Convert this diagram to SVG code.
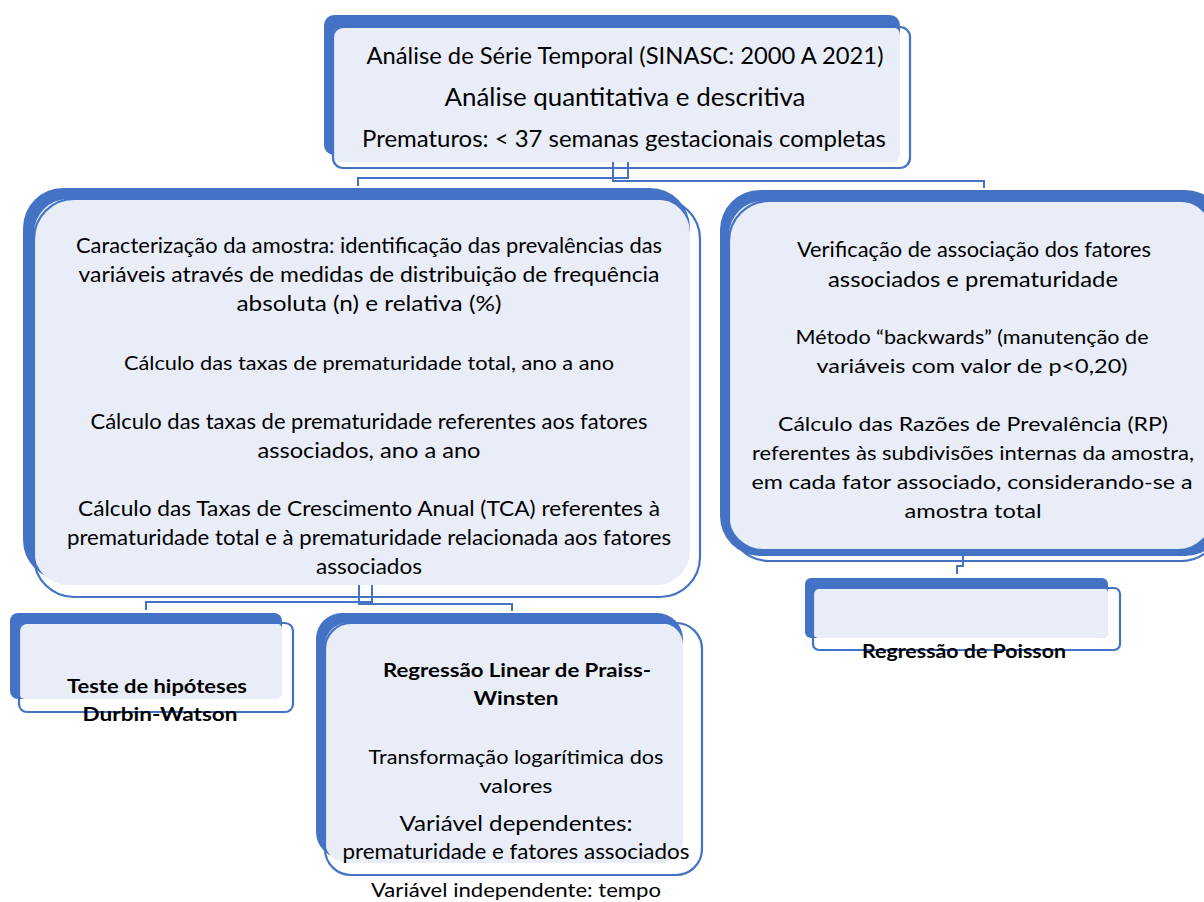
<svg xmlns="http://www.w3.org/2000/svg" width="1204" height="902" viewBox="0 0 1204 902">
<style>
.back{fill:#4472C4}
.fill{fill:#E9EDF7}
.out{fill:none;stroke:#4472C4;stroke-width:2.2}
.conn{fill:none;stroke:#4472C4;stroke-width:2}
text{font-family:Lato,"Open Sans","Liberation Sans",sans-serif;fill:#000;text-anchor:middle}
.b{font-weight:bold}
</style>
<rect width="1204" height="902" fill="#fff"/>
<g id="connectors">
<path class="conn" d="M628,162 V178 H358 V186"/>
<path class="conn" d="M613,162 V181 H984 V188"/>
<path class="conn" d="M372,584 V602 H146 V610"/>
<path class="conn" d="M359,584 V604 H512 V611"/>
<path class="conn" d="M963,550 V566 H957 V574"/>
</g>
<g id="node-top">
<rect class="back" x="324" y="15" width="576" height="140" rx="10"/>
<rect class="fill" x="333" y="27" width="567" height="135" rx="8"/>
<rect class="out" x="333" y="27" width="577" height="141" rx="10"/>
<text x="625" y="64" font-size="23.5" textLength="517" lengthAdjust="spacingAndGlyphs">Análise de Série Temporal (SINASC: 2000 A 2021)</text>
<text x="625" y="106" font-size="24.5" textLength="361" lengthAdjust="spacingAndGlyphs">Análise quantitativa e descritiva</text>
<text x="624" y="147" font-size="22.5" textLength="524" lengthAdjust="spacingAndGlyphs">Prematuros: &lt; 37 semanas gestacionais completas</text>
</g>
<g id="node-left">
<rect class="back" x="23" y="188" width="667" height="392" rx="40"/>
<rect class="fill" x="34" y="199" width="656" height="386" rx="34"/>
<rect class="out" x="34" y="199" width="666" height="398" rx="40"/>
<text x="369" y="253" font-size="21.5" textLength="586" lengthAdjust="spacingAndGlyphs">Caracterização da amostra: identificação das prevalências das</text>
<text x="369" y="282" font-size="21.5" textLength="581" lengthAdjust="spacingAndGlyphs">variáveis através de medidas de distribuição de frequência</text>
<text x="369" y="311" font-size="21.5" textLength="265" lengthAdjust="spacingAndGlyphs">absoluta (n) e relativa (%)</text>
<text x="369" y="370" font-size="20" textLength="490" lengthAdjust="spacingAndGlyphs">Cálculo das taxas de prematuridade total, ano a ano</text>
<text x="369" y="429" font-size="20.5" textLength="557" lengthAdjust="spacingAndGlyphs">Cálculo das taxas de prematuridade referentes aos fatores</text>
<text x="369" y="458" font-size="20.5" textLength="223" lengthAdjust="spacingAndGlyphs">associados, ano a ano</text>
<text x="369" y="516" font-size="20.5" textLength="582" lengthAdjust="spacingAndGlyphs">Cálculo das Taxas de Crescimento Anual (TCA) referentes à</text>
<text x="369" y="545" font-size="20.5" textLength="604" lengthAdjust="spacingAndGlyphs">prematuridade total e à prematuridade relacionada aos fatores</text>
<text x="369" y="574" font-size="20.5" textLength="106" lengthAdjust="spacingAndGlyphs">associados</text>
</g>
<g id="node-right">
<rect class="back" x="720" y="190" width="505" height="366" rx="40"/>
<rect class="fill" x="729" y="201" width="483" height="348" rx="34"/>
<rect class="out" x="729" y="201" width="492" height="360" rx="40"/>
<text x="974" y="257" font-size="21" textLength="354" lengthAdjust="spacingAndGlyphs">Verificação de associação dos fatores</text>
<text x="973" y="287" font-size="21" textLength="290" lengthAdjust="spacingAndGlyphs">associados e prematuridade</text>
<text x="972" y="344" font-size="19.5" textLength="353" lengthAdjust="spacingAndGlyphs">Método “backwards” (manutenção de</text>
<text x="972" y="373" font-size="20" textLength="311" lengthAdjust="spacingAndGlyphs">variáveis com valor de p&lt;0,20)</text>
<text x="973" y="431" font-size="20" textLength="390" lengthAdjust="spacingAndGlyphs">Cálculo das Razões de Prevalência (RP)</text>
<text x="973" y="460" font-size="20" textLength="442" lengthAdjust="spacingAndGlyphs">referentes às subdivisões internas da amostra,</text>
<text x="972" y="489" font-size="20" textLength="441" lengthAdjust="spacingAndGlyphs">em cada fator associado, considerando-se a</text>
<text x="973" y="518" font-size="20" textLength="137" lengthAdjust="spacingAndGlyphs">amostra total</text>
</g>
<g id="node-durbin">
<rect class="back" x="10" y="613" width="272" height="86" rx="8"/>
<rect class="fill" x="19" y="623" width="263" height="76" rx="6"/>
<rect class="out" x="19" y="623" width="274" height="89" rx="8"/>
<text class="b" x="157" y="693" font-size="19.5" textLength="180" lengthAdjust="spacingAndGlyphs">Teste de hipóteses</text>
<text class="b" x="160" y="721" font-size="19.5" textLength="155" lengthAdjust="spacingAndGlyphs">Durbin-Watson</text>
</g>
<g id="node-praiss">
<rect class="back" x="316" y="613" width="367" height="245" rx="26"/>
<rect class="fill" x="325" y="623" width="358" height="240" rx="22"/>
<rect class="out" x="325" y="623" width="377" height="252" rx="26"/>
<text class="b" x="517" y="677" font-size="19.5" textLength="268" lengthAdjust="spacingAndGlyphs">Regressão Linear de Praiss-</text>
<text class="b" x="516" y="705" font-size="19.5" textLength="85" lengthAdjust="spacingAndGlyphs">Winsten</text>
<text x="516" y="764" font-size="19.5" textLength="295" lengthAdjust="spacingAndGlyphs">Transformação logarítimica dos</text>
<text x="516" y="793" font-size="19.5" textLength="73" lengthAdjust="spacingAndGlyphs">valores</text>
<text x="516" y="831" font-size="20.5" textLength="233" lengthAdjust="spacingAndGlyphs">Variável dependentes:</text>
<text x="516" y="859" font-size="20.5" textLength="347" lengthAdjust="spacingAndGlyphs">prematuridade e fatores associados</text>
<text x="516" y="897" font-size="19.5" textLength="290" lengthAdjust="spacingAndGlyphs">Variável independente: tempo</text>
</g>
<g id="node-poisson">
<rect class="back" x="805" y="578" width="303" height="60" rx="6"/>
<rect class="fill" x="813" y="588" width="295" height="50" rx="5"/>
<rect class="out" x="813" y="588" width="307" height="62" rx="6"/>
<text class="b" x="964" y="658" font-size="19.5" textLength="204" lengthAdjust="spacingAndGlyphs">Regressão de Poisson</text>
</g>
</svg>
